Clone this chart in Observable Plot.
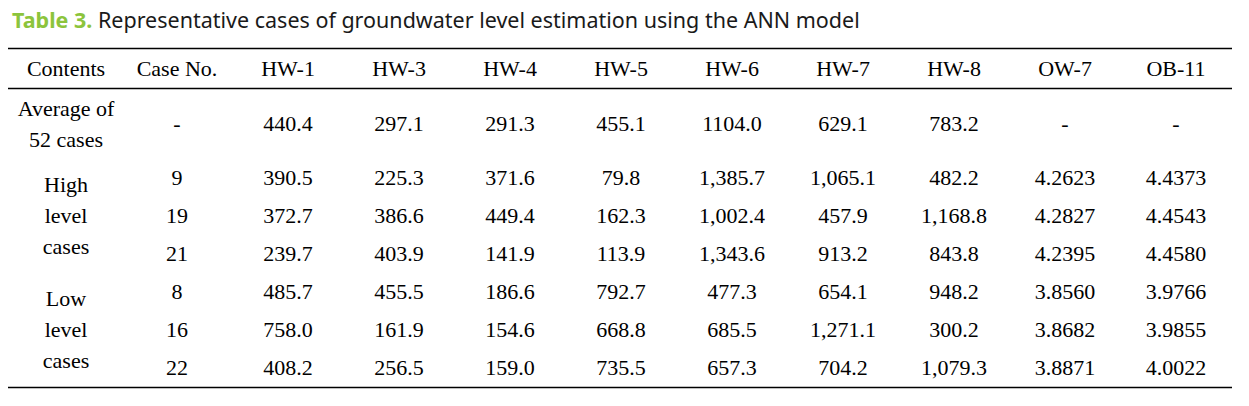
<!DOCTYPE html>
<html>
<head>
<meta charset="utf-8">
<script src="https://cdn.jsdelivr.net/npm/d3@7"></script>
<script src="https://cdn.jsdelivr.net/npm/@observablehq/plot@0.6"></script>
<style>
  html, body { margin: 0; padding: 0; background: #fff; }
  #title { height: 40px; line-height: 40px; padding-left: 12px; font-family: "Noto Sans", sans-serif; font-size: 21.5px; color: #1a1a1a; white-space: nowrap; }
  #title b { color: #8cc43c; font-weight: 700; }
  svg { display: block; }
</style>
</head>
<body>
<div id="title"><b>Table 3.</b> Representative cases of groundwater level estimation using the ANN model</div>
<div id="chart"></div>
<script>
// ---- data ----
const columns = ["Contents", "Case No.", "HW-1", "HW-3", "HW-4", "HW-5", "HW-6", "HW-7", "HW-8", "OW-7", "OB-11"];
const wells = ["HW-1", "HW-3", "HW-4", "HW-5", "HW-6", "HW-7", "HW-8", "OW-7", "OB-11"];
const averageLabel = "Average of\n52 cases";
const averageValues = [440.4, 297.1, 291.3, 455.1, 1104.0, 629.1, 783.2, null, null];
const highLabel = "High\nlevel\ncases";
const highCases = [9, 19, 21];
const highValues = [
  [390.5, 225.3, 371.6, 79.8, 1385.7, 1065.1, 482.2, 4.2623, 4.4373],
  [372.7, 386.6, 449.4, 162.3, 1002.4, 457.9, 1168.8, 4.2827, 4.4543],
  [239.7, 403.9, 141.9, 113.9, 1343.6, 913.2, 843.8, 4.2395, 4.4580]
];
const lowLabel = "Low\nlevel\ncases";
const lowCases = [8, 16, 22];
const lowValues = [
  [485.7, 455.5, 186.6, 792.7, 477.3, 654.1, 948.2, 3.8560, 3.9766],
  [758.0, 161.9, 154.6, 668.8, 685.5, 1271.1, 300.2, 3.8682, 3.9855],
  [408.2, 256.5, 159.0, 735.5, 657.3, 704.2, 1079.3, 3.8871, 4.0022]
];

// ---- layout (row heights in px of table) ----
const rowIds = ["header", "avg", "h0", "h1", "h2", "l0", "l1", "l2"];
const rowHeights = [40, 70, 38, 38, 38, 38, 38, 38];
const rowCenter = {};
let acc = 0;
rowIds.forEach((id, i) => { rowCenter[id] = acc + rowHeights[i] / 2; acc += rowHeights[i]; });
const tableHeight = acc + 1;

const fmtAvg = d3.format(".1f");
const fmtHW = d3.format(",.1f");
const fmtOW = d3.format(".4f");
const fmtCell = (well, v, isAvg) => {
  if (v == null) return "-";
  if (well.startsWith("HW")) return isAvg ? fmtAvg(v) : fmtHW(v);
  return fmtOW(v);
};

const cells = [];
columns.forEach(c => cells.push({col: c, row: "header", text: c}));
cells.push({col: "Contents", row: "avg", text: averageLabel});
cells.push({col: "Case No.", row: "avg", text: "-"});
wells.forEach((w, j) => cells.push({col: w, row: "avg", text: fmtCell(w, averageValues[j], true)}));
cells.push({col: "Contents", row: "h1", text: highLabel});
highCases.forEach((k, i) => {
  cells.push({col: "Case No.", row: "h" + i, text: String(k)});
  wells.forEach((w, j) => cells.push({col: w, row: "h" + i, text: fmtCell(w, highValues[i][j], false)}));
});
cells.push({col: "Contents", row: "l1", text: lowLabel});
lowCases.forEach((k, i) => {
  cells.push({col: "Case No.", row: "l" + i, text: String(k)});
  wells.forEach((w, j) => cells.push({col: w, row: "l" + i, text: fmtCell(w, lowValues[i][j], false)}));
});
cells.forEach(d => d.y = rowCenter[d.row]);

const chart = Plot.plot({
  width: 1249,
  height: 366,
  marginLeft: 8,
  marginRight: 17,
  marginTop: 8,
  marginBottom: 19,
  style: {fontFamily: "Liberation Serif, serif"},
  x: {type: "band", domain: columns, padding: 0, axis: null},
  y: {type: "linear", domain: [0, tableHeight], range: [8, 8 + tableHeight], axis: null},
  marks: [
    Plot.ruleY([0, rowHeights[0], tableHeight], {stroke: "#000", strokeWidth: 1.5}),
    Plot.text(cells, {
      x: "col", y: "y", text: "text",
      fontSize: 22, fontFamily: "Liberation Serif",
      fill: "#000", lineHeight: 1.41, dy: -2
    })
  ]
});
document.getElementById("chart").appendChild(chart);
</script>
</body>
</html>
